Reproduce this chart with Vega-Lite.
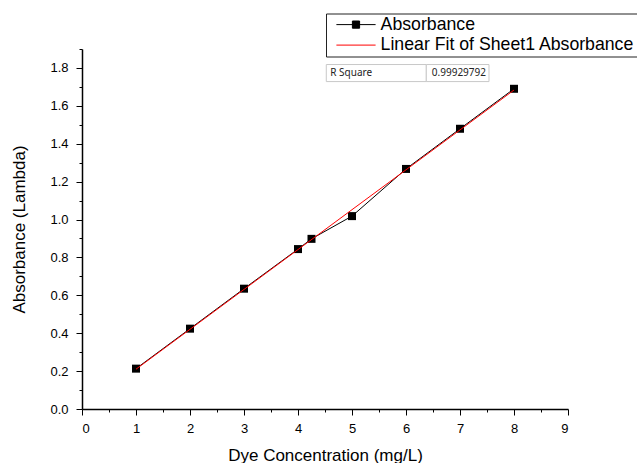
{
  "$schema": "https://vega.github.io/schema/vega-lite/v6.json",
  "autosize": {"type": "none"},
  "width": 486,
  "height": 360,
  "padding": {"left": 82, "top": 49, "right": 69, "bottom": 54},
  "background": "white",
  "config": {
    "view": {"stroke": null},
    "font": "Liberation Sans",
    "axis": {
      "grid": false,
      "domainColor": "black",
      "tickColor": "black",
      "labelColor": "black",
      "titleColor": "black",
      "labelFont": "Liberation Sans",
      "titleFont": "Liberation Sans",
      "labelFontSize": 13,
      "titleFontSize": 17,
      "titleFontWeight": "normal"
    }
  },
  "datasets": {
    "measured": [
      {"conc": 1, "abs": 0.213, "series": "Absorbance"},
      {"conc": 2, "abs": 0.424, "series": "Absorbance"},
      {"conc": 3, "abs": 0.635, "series": "Absorbance"},
      {"conc": 4, "abs": 0.844, "series": "Absorbance"},
      {"conc": 4.25, "abs": 0.898, "series": "Absorbance"},
      {"conc": 5, "abs": 1.018, "series": "Absorbance"},
      {"conc": 6, "abs": 1.267, "series": "Absorbance"},
      {"conc": 7, "abs": 1.479, "series": "Absorbance"},
      {"conc": 8, "abs": 1.69, "series": "Absorbance"}
    ],
    "fit": [
      {"conc": 1, "abs": 0.2100, "series": "Linear Fit of Sheet1 Absorbance"},
      {"conc": 8, "abs": 1.6835, "series": "Linear Fit of Sheet1 Absorbance"}
    ],
    "table": [
      {"x1": 4.524, "x2": 6.376, "y1": 1.728, "y2": 1.818, "ym": 1.773, "text": "R Square", "tx": 4.524, "side": "left"},
      {"x1": 6.376, "x2": 7.537, "y1": 1.728, "y2": 1.818, "ym": 1.773, "text": "0.99929792", "tx": 7.537, "side": "right"}
    ]
  },
  "encoding": {
    "x": {
      "field": "conc",
      "type": "quantitative",
      "scale": {"domain": [0, 9], "nice": false, "zero": false},
      "axis": {
        "title": "Dye Concentration (mg/L)",
        "values": [0, 0.5, 1, 1.5, 2, 2.5, 3, 3.5, 4, 4.5, 5, 5.5, 6, 6.5, 7, 7.5, 8, 8.5, 9],
        "labelExpr": "abs(datum.value - round(datum.value)) < 0.01 ? format(datum.value, 'd') : ''",
        "tickSize": {"condition": {"test": "abs(datum.value - round(datum.value)) < 0.01", "value": 6}, "value": 3},
        "domainWidth": 1.5,
        "labelPadding": 7,
        "titlePadding": 12
      }
    },
    "y": {
      "field": "abs",
      "type": "quantitative",
      "scale": {"domain": [0, 1.9], "nice": false, "zero": false},
      "axis": {
        "title": "Absorbance (Lambda)",
        "values": [0, 0.1, 0.2, 0.3, 0.4, 0.5, 0.6, 0.7, 0.8, 0.9, 1.0, 1.1, 1.2, 1.3, 1.4, 1.5, 1.6, 1.7, 1.8, 1.9],
        "labelExpr": "abs(datum.value*5 - round(datum.value*5)) < 0.01 ? format(datum.value, '.1f') : ''",
        "tickSize": {"condition": {"test": "abs(datum.value*5 - round(datum.value*5)) < 0.01", "value": 6}, "value": 3},
        "domainWidth": 1.5,
        "labelPadding": 8,
        "titlePadding": 21
      }
    }
  },
  "layer": [
    {
      "data": {"name": "measured"},
      "mark": {"type": "line", "strokeWidth": 1},
      "encoding": {
        "color": {
          "field": "series",
          "type": "nominal",
          "scale": {"domain": ["Absorbance", "Linear Fit of Sheet1 Absorbance"], "range": ["black", "red"]},
          "legend": {
            "title": null,
            "orient": "none",
            "legendX": 244,
            "legendY": -35.5,
            "strokeColor": "#222",
            "fillColor": "white",
            "padding": 2.25,
            "rowPadding": 1.5,
            "labelFont": "Liberation Sans",
            "labelFontSize": 17.7,
            "labelColor": "black",
            "labelLimit": 0,
            "symbolSize": 64,
            "symbolOffset": 18.9,
            "labelOffset": 15.75,
            "symbolStrokeWidth": 1,
            "symbolFillColor": "black",
            "symbolOpacity": 1,
            "symbolType": {"expr": "datum.value === 'Absorbance' ? 'M-4.9,0H4.9M-0.9,-0.9H0.9V0.9H-0.9Z' : 'M-4.9,0H4.9'"}
          }
        }
      }
    },
    {
      "data": {"name": "measured"},
      "mark": {"type": "point", "shape": "square", "filled": true, "size": 64, "opacity": 1, "color": "black"},
      "encoding": {}
    },
    {
      "data": {"name": "fit"},
      "mark": {"type": "line", "color": "red", "strokeWidth": 1},
      "encoding": {}
    },
    {
      "data": {"name": "table"},
      "mark": {"type": "rect", "fill": "white", "stroke": "#c8c8c8", "strokeWidth": 1},
      "encoding": {
        "x": {"field": "x1", "type": "quantitative"},
        "x2": {"field": "x2"},
        "y": {"field": "y1", "type": "quantitative"},
        "y2": {"field": "y2"}
      }
    },
    {
      "data": {"name": "table"},
      "transform": [{"filter": "datum.side === 'left'"}],
      "mark": {"type": "text", "font": "Noto Sans", "fontSize": 10, "color": "#222", "baseline": "middle", "align": "left", "dx": 4},
      "encoding": {
        "x": {"field": "tx", "type": "quantitative"},
        "y": {"field": "ym", "type": "quantitative"},
        "text": {"field": "text"}
      }
    },
    {
      "data": {"name": "table"},
      "transform": [{"filter": "datum.side === 'right'"}],
      "mark": {"type": "text", "font": "Noto Sans", "fontSize": 10, "color": "#222", "baseline": "middle", "align": "right", "dx": -3},
      "encoding": {
        "x": {"field": "tx", "type": "quantitative"},
        "y": {"field": "ym", "type": "quantitative"},
        "text": {"field": "text"}
      }
    }
  ]
}
